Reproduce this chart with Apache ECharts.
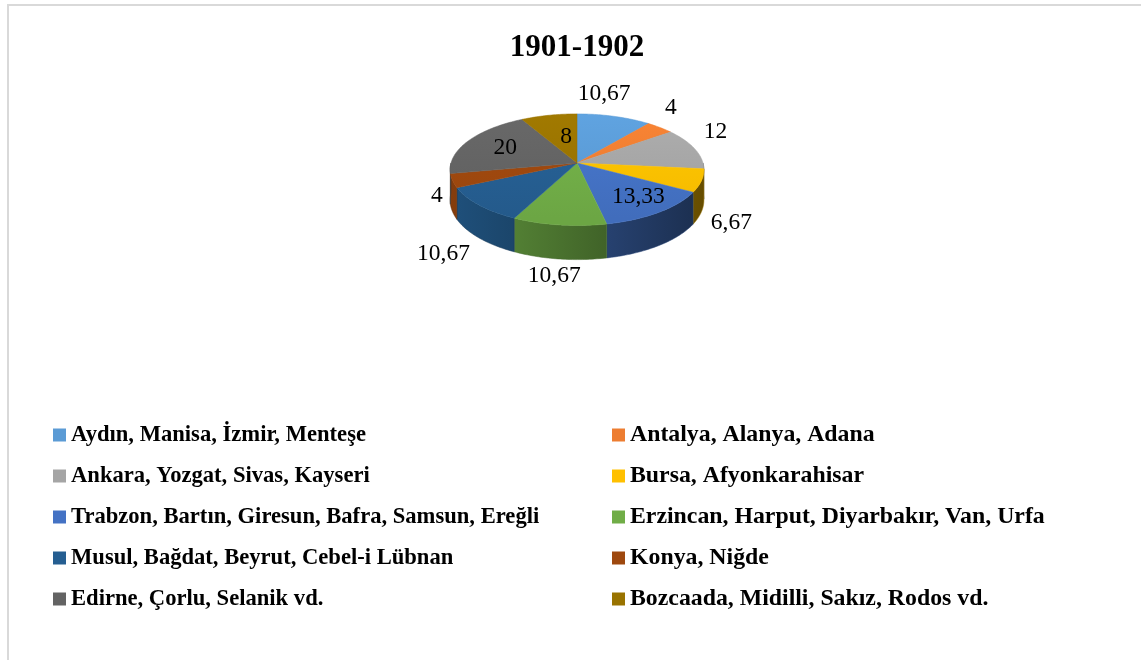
<!DOCTYPE html>
<html>
<head>
<meta charset="utf-8">
<script src="https://cdn.jsdelivr.net/npm/echarts@6/dist/echarts.min.js"></script>
<style>
  html, body { margin: 0; padding: 0; background: #fff; }
  #main { width: 1141px; height: 660px; }
</style>
</head>
<body>
<div id="main"></div>
<script>
var regions = [
  'Aydın, Manisa, İzmir, Menteşe',
  'Antalya, Alanya, Adana',
  'Ankara, Yozgat, Sivas, Kayseri',
  'Bursa, Afyonkarahisar',
  'Trabzon, Bartın, Giresun, Bafra, Samsun, Ereğli',
  'Erzincan, Harput, Diyarbakır, Van, Urfa',
  'Musul, Bağdat, Beyrut, Cebel-i Lübnan',
  'Konya, Niğde',
  'Edirne, Çorlu, Selanik vd.',
  'Bozcaada, Midilli, Sakız, Rodos vd.'
];
var shares = [10.67, 4, 12, 6.67, 13.33, 10.67, 10.67, 4, 20, 8];

// office palette
var colors = ['#5B9BD5', '#ED7D31', '#A5A5A5', '#FFC000', '#4472C4',
              '#70AD47', '#255E91', '#9E480E', '#636363', '#997300'];
var insideLabel = [false, false, false, false, true, false, false, false, true, true];
// small label nudges (px), like excel's best fit
var labelNudge = [[-22, -7], [0, -8], [0, -12], [0, 27], [10, 3],
                  [0, 0], [-8, 14], [0, 0], [0, 0], [8, 6]];

var chart = echarts.init(document.getElementById('main'));

// fake 3d pie geometry
var cx = 577, cy = 163, rx = 126, ry = 55, depth = 30, persp = 0.12;
var total = 0;
var starts = [];
shares.forEach(function (v) { starts.push(total); total += v; });

function proj(deg, rs, dz) {
  var t = deg * Math.PI / 180, s = Math.sin(t), c = Math.cos(t);
  var f = 1 / (1 + persp * c * Math.min(rs, 1));
  return [cx + rx * rs * s * f, cy - ry * rs * c * f + dz * f];
}

function shade(hex, k) {
  var n = parseInt(hex.slice(1), 16);
  var r = Math.min(255, Math.round(((n >> 16) & 255) * k));
  var g = Math.min(255, Math.round(((n >> 8) & 255) * k));
  var b = Math.min(255, Math.round((n & 255) * k));
  return 'rgb(' + r + ',' + g + ',' + b + ')';
}

function arc(a0, a1, dz) {
  var pts = [];
  var steps = Math.max(2, Math.ceil(a1 - a0));
  for (var j = 0; j <= steps; j++) {
    pts.push(proj(a0 + (a1 - a0) * j / steps, 1, dz));
  }
  return pts;
}

function renderSlice(params, api) {
  var i = params.dataIndex;
  var v = api.value(0);
  var a0 = starts[i] / total * 360;
  var a1 = a0 + v / total * 360;
  var col = colors[i];
  var children = [];

  // side wall, only the front half shows
  var v0 = Math.max(a0, 90), v1 = Math.min(a1, 270);
  if (v0 < v1) {
    var wall = arc(v0, v1, 0).concat(arc(v0, v1, depth).reverse());
    children.push({
      type: 'polygon',
      z2: 1,
      shape: { points: wall },
      style: {
        fill: new echarts.graphic.LinearGradient(cx - rx, 0, cx + rx, 0, [
          { offset: 0, color: shade(col, 0.85) },
          { offset: 1, color: shade(col, 0.4) }
        ], true),
        stroke: shade(col, 0.6),
        lineWidth: 0.5
      }
    });
  }

  // top face
  var top = [proj(0, 0, 0)].concat(arc(a0, a1, 0));
  children.push({
    type: 'polygon',
    z2: 10,
    shape: { points: top },
    style: {
      fill: new echarts.graphic.LinearGradient(0, cy - ry, 0, cy + ry, [
        { offset: 0, color: shade(col, 1.06) },
        { offset: 1, color: shade(col, 0.96) }
      ], true),
      stroke: shade(col, 1.0),
      lineWidth: 0.5
    }
  });

  // value label
  var mid = (a0 + a1) / 2;
  var t = mid * Math.PI / 180, s = Math.sin(t), c = Math.cos(t);
  var txt = String(v).replace('.', ',');
  var lx, ly;
  if (insideLabel[i]) {
    var p = proj(mid, 0.65, 0);
    lx = p[0]; ly = p[1];
  } else {
    var q = proj(mid, 1.08, c < 0 ? depth * (-c) : 0);
    var w = 0;
    for (var k = 0; k < txt.length; k++) w += txt[k] === ',' ? 6 : 12;
    lx = q[0] + s * w / 2;
    ly = q[1] - c * 12;
  }
  children.push({
    type: 'text',
    z2: 20,
    x: lx + labelNudge[i][0],
    y: ly + labelNudge[i][1],
    style: {
      text: txt,
      fill: '#000',
      font: '23.5px "Liberation Serif", "Times New Roman", serif',
      align: 'center',
      verticalAlign: 'middle'
    }
  });

  return { type: 'group', children: children };
}

var col1 = [], col2 = [];
regions.forEach(function (r, i) { (i % 2 === 0 ? col1 : col2).push(r); });

function legendText(size) {
  return {
    fontFamily: '"Liberation Serif", "Times New Roman", serif',
    fontWeight: 'bold',
    fontSize: size,
    lineHeight: 24,
    color: '#000'
  };
}

option = {
  backgroundColor: '#fff',
  animation: false,
  title: {
    text: '1901-1902',
    left: 572,
    top: 27,
    textAlign: 'center',
    textStyle: {
      fontFamily: '"Liberation Serif", "Times New Roman", serif',
      fontWeight: 'bold',
      fontSize: 31,
      color: '#000'
    }
  },
  legend: [
    {
      data: col1, orient: 'vertical', left: 53, top: 423, padding: 0,
      itemWidth: 13, itemHeight: 13, itemGap: 17, icon: 'rect',
      selectedMode: false, textStyle: legendText(22.6)
    },
    {
      data: col2, orient: 'vertical', left: 612, top: 423, padding: 0,
      itemWidth: 13, itemHeight: 13, itemGap: 17, icon: 'rect',
      selectedMode: false, textStyle: legendText(23.8)
    }
  ],
  graphic: [
    {
      type: 'rect', x: 8, y: 5, silent: true, z: -10,
      shape: { x: 0, y: 0, width: 1200, height: 700 },
      style: { fill: 'none', stroke: '#d9d9d9', lineWidth: 2 }
    }
  ],
  series: [
    {
      // only feeds the legend
      type: 'pie',
      radius: [0, 0],
      center: [cx, cy],
      silent: true,
      label: { show: false },
      labelLine: { show: false },
      data: regions.map(function (r, i) {
        return { name: r, value: shares[i], itemStyle: { color: colors[i] } };
      })
    },
    {
      type: 'custom',
      name: '1901-1902',
      coordinateSystem: 'none',
      silent: true,
      renderItem: renderSlice,
      data: shares.map(function (v) { return [v]; })
    }
  ]
};
chart.setOption(option);
</script>
</body>
</html>
